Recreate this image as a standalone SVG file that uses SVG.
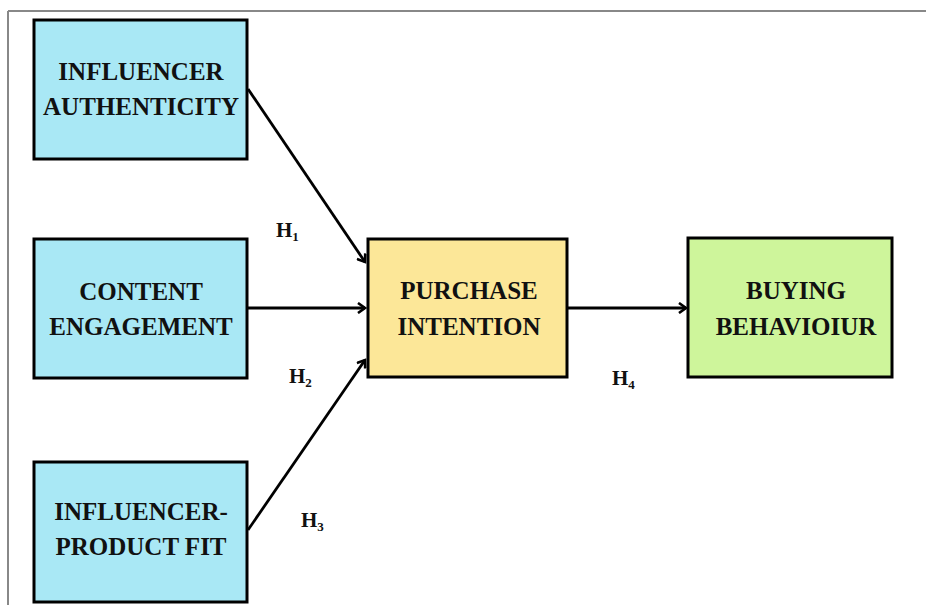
<svg xmlns="http://www.w3.org/2000/svg" width="926" height="605" viewBox="0 0 926 605">
<style>
.box{stroke:#000;stroke-width:3}
.t{font-family:"Liberation Serif","Times New Roman",serif;font-weight:bold;font-size:25px;fill:#111;text-anchor:middle}
.h{font-family:"Liberation Serif","Times New Roman",serif;font-weight:bold;font-size:21px;fill:#111}
.h tspan{font-size:13px}
.c{stroke:#000;stroke-width:2.8;fill:none}
</style>
<defs>
<marker id="ah" markerWidth="12" markerHeight="12" refX="9" refY="6" orient="auto" markerUnits="userSpaceOnUse">
<path d="M2,1 L9,6 L2,11" fill="none" stroke="#000" stroke-width="2.6"/>
</marker>
</defs>
<rect width="926" height="605" fill="#fff"/>
<g id="frame">
<line x1="8" y1="11" x2="926" y2="11" stroke="#888" stroke-width="2"/>
<line x1="8" y1="11" x2="8" y2="605" stroke="#888" stroke-width="2"/>
</g>
<g id="connectors">
<line class="c" x1="248" y1="89" x2="365" y2="262" marker-end="url(#ah)"/>
<line class="c" x1="248" y1="308" x2="365" y2="308" marker-end="url(#ah)"/>
<line class="c" x1="248" y1="530" x2="365" y2="360" marker-end="url(#ah)"/>
<line class="c" x1="568" y1="308" x2="686" y2="308" marker-end="url(#ah)"/>
</g>
<g id="labels">
<text class="h" x="276" y="237">H<tspan dy="4">1</tspan></text>
<text class="h" x="289" y="383">H<tspan dy="4">2</tspan></text>
<text class="h" x="301" y="527">H<tspan dy="4">3</tspan></text>
<text class="h" x="612" y="385">H<tspan dy="4">4</tspan></text>
</g>
<g id="influencer-authenticity">
<rect class="box" x="34" y="20" width="213" height="139" fill="#A9E8F5"/>
<text class="t" x="141" y="80">INFLUENCER</text>
<text class="t" x="141" y="115">AUTHENTICITY</text>
</g>
<g id="content-engagement">
<rect class="box" x="34" y="239" width="213" height="139" fill="#A9E8F5"/>
<text class="t" x="141" y="300">CONTENT</text>
<text class="t" x="141" y="335">ENGAGEMENT</text>
</g>
<g id="influencer-product-fit">
<rect class="box" x="34" y="462" width="213" height="140" fill="#A9E8F5"/>
<text class="t" x="141" y="520">INFLUENCER-</text>
<text class="t" x="141" y="555">PRODUCT FIT</text>
</g>
<g id="purchase-intention">
<rect class="box" x="368" y="239" width="199" height="138" fill="#FCE798"/>
<text class="t" x="469" y="299">PURCHASE</text>
<text class="t" x="469" y="335">INTENTION</text>
</g>
<g id="buying-behaviour">
<rect class="box" x="688" y="238" width="204" height="139" fill="#CEF59B"/>
<text class="t" x="796" y="299">BUYING</text>
<text class="t" x="796" y="335">BEHAVIOIUR</text>
</g>
</svg>
